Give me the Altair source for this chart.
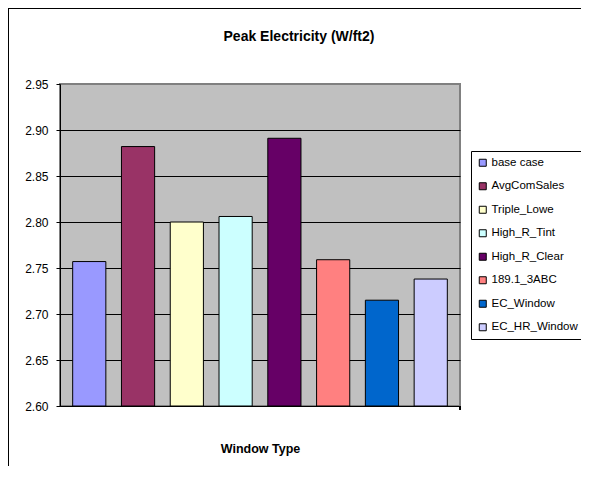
import altair as alt
import pandas as pd

title_text = ["Peak Electricity (W/ft2)"]
series = ["base case", "AvgComSales", "Triple_Lowe", "High_R_Tint",
          "High_R_Clear", "189.1_3ABC", "EC_Window", "EC_HR_Window"]
values = [2.757, 2.882, 2.800, 2.806, 2.891, 2.759, 2.715, 2.738]
colors = ["#9999FF", "#993366", "#FFFFCC", "#CCFFFF",
          "#660066", "#FF8080", "#0066CC", "#CCCCFF"]
y_ticks = [2.60, 2.65, 2.70, 2.75, 2.80, 2.85, 2.90, 2.95]

df = pd.DataFrame({"series": series, "value": values})
df_title = pd.DataFrame({"t": title_text})

FONT = "Liberation Sans"
W, H = 400, 322

bars = alt.Chart(df).mark_bar(stroke="black", strokeWidth=1).encode(
    x=alt.X("series:N", sort=series,
            scale=alt.Scale(paddingInner=0.32, paddingOuter=0.26),
            axis=alt.Axis(labels=False, ticks=False, domainColor="black",
                          title="Window Type", titleFont=FONT, titleFontSize=12.5,
                          titleFontWeight="bold", titleColor="black", titlePadding=36)),
    y=alt.Y("value:Q",
            scale=alt.Scale(domain=[2.6, 2.95], zero=False, nice=False),
            axis=alt.Axis(values=y_ticks, format=".2f", title=None,
                          labelFont=FONT, labelFontSize=12, labelColor="black",
                          labelPadding=8, tickSize=4, tickColor="black",
                          domainColor="black", gridColor="black",
                          gridOpacity=alt.expr("datum.value > 2.94 ? 0 : 1"))),
    y2=alt.datum(2.6),
    color=alt.Color("series:N", sort=series,
                    scale=alt.Scale(domain=series, range=colors),
                    legend=alt.Legend(title=None, orient="none", legendX=411, legendY=67,
                                      strokeColor="black", padding=6,
                                      symbolType="square", symbolSize=49,
                                      symbolStrokeColor="black", symbolStrokeWidth=1,
                                      labelFont=FONT, labelFontSize=11.5, labelColor="black",
                                      rowPadding=10.5, labelOffset=3)),
)

title = alt.Chart(df_title).mark_text(
    font=FONT, fontSize=14, fontWeight="bold", color="black",
    align="center", baseline="middle"
).encode(x=alt.value(239), y=alt.value(-47), text="t:N")

end_tick = alt.Chart(df).mark_rule(color="black").encode(
    x=alt.value(W), y=alt.value(H), y2=alt.value(H + 4))

frame_left = alt.Chart(df).mark_rule(color="black").encode(
    x=alt.value(-51.5), y=alt.value(-76), y2=alt.value(H + 80))
frame_top = alt.Chart(df).mark_rule(color="black").encode(
    x=alt.value(-52), x2=alt.value(W + 125), y=alt.value(-75.5))

chart = alt.layer(bars, title, end_tick, frame_left, frame_top).properties(
    width=W, height=H,
    autosize=alt.AutoSizeParams(type="none"),
    padding={"left": 52, "top": 76, "right": 121, "bottom": 60},
).configure(
    background="white",
    view=alt.ViewConfig(fill="#C0C0C0", stroke="#808080", strokeWidth=2),
)

chart.save("out.html", embed_options={"renderer": "svg", "actions": False})
